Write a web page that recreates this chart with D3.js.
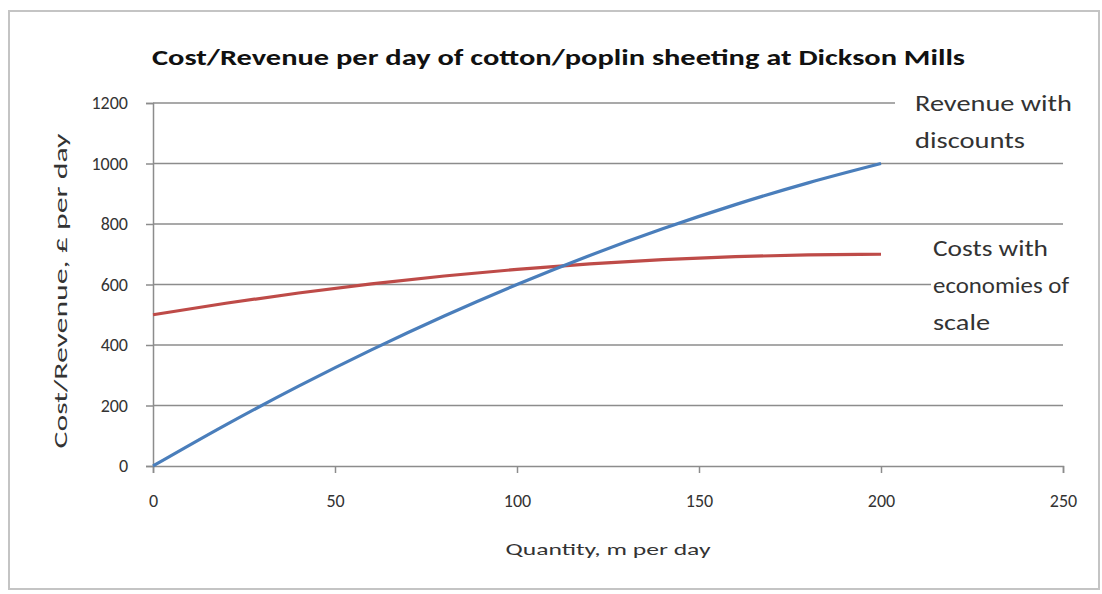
<!DOCTYPE html>
<html><head><meta charset="utf-8">
<script src="https://cdn.jsdelivr.net/npm/d3@7"></script>
<style>body{margin:0;background:#fff;} svg{display:block;}</style>
</head><body>
<svg id="c" width="1102" height="594"></svg>
<script>
const quantity = [0,20,40,60,80,100,120,140,160,180,200];
const revenue  = [0,136,264,384,496,600,696,784,864,936,1000];
const costs    = [500,538,572,602,628,650,668,682,692,698,700];
const xTicks = [0,50,100,150,200,250];
const yTicks = [0,200,400,600,800,1000,1200];
const titleText = "Cost/Revenue per day of cotton/poplin sheeting at Dickson Mills";
const xTitle = "Quantity, m per day";
const yTitle = "Cost/Revenue, £ per day";
const revLabel = ["Revenue with","discounts"];
const costLabel = ["Costs with","economies of","scale"];

const svg = d3.select("#c");
const font = "Carlito, Lato, 'Open Sans', 'Liberation Sans', sans-serif";
const ml=153, mr=1063, mt=103, mb=466;
const x = d3.scaleLinear().domain([0,250]).range([ml,mr]);
const y = d3.scaleLinear().domain([0,1200]).range([mb,mt]);

svg.append("rect").attr("x",9).attr("y",11).attr("width",1090).attr("height",578)
  .attr("fill","#fff").attr("stroke","#c4c4c4").attr("stroke-width",2);

// gridlines
svg.append("g").selectAll("line").data(yTicks.filter(d=>d>0)).join("line")
  .attr("x1",ml).attr("x2",mr).attr("y1",d=>y(d)).attr("y2",d=>y(d))
  .attr("stroke","#8c8c8c").attr("stroke-width",1.5);

// axes
const gx = svg.append("g").attr("transform",`translate(0,${mb})`)
  .call(d3.axisBottom(x).tickValues(xTicks).tickFormat(d3.format("d")).tickSize(7).tickPadding(18));
const gy = svg.append("g").attr("transform",`translate(${ml},0)`)
  .call(d3.axisLeft(y).tickValues(yTicks).tickFormat(d3.format("d")).tickSize(7).tickPadding(18));
[gx,gy].forEach(g=>{
  g.attr("font-family",font).attr("font-size",18);
  g.select(".domain").attr("stroke","#8c8c8c").attr("stroke-width",1.5);
  g.selectAll(".tick line").attr("stroke","#8c8c8c").attr("stroke-width",1.5);
  g.selectAll("text").attr("fill","#333");
});
gx.selectAll("text").attr("dy","0.9em");

// lines
const line = d3.line().x((d,i)=>x(quantity[i])).y(d=>y(d)).curve(d3.curveMonotoneX);
svg.append("path").datum(costs).attr("d",line).attr("fill","none")
  .attr("stroke","#be4b48").attr("stroke-width",3.2);
svg.append("path").datum(revenue).attr("d",line).attr("fill","none")
  .attr("stroke","#4a7ebb").attr("stroke-width",3.2);

// title
svg.append("text").attr("x",152).attr("y",65).text(titleText)
  .attr("font-family",font).attr("font-weight","bold").attr("font-size",23)
  .attr("fill","#111").attr("textLength",813).attr("lengthAdjust","spacingAndGlyphs");

// axis titles
svg.append("text").attr("x",608).attr("y",555).attr("text-anchor","middle").text(xTitle)
  .attr("font-family",font).attr("font-size",17).attr("fill","#333")
  .attr("textLength",205).attr("lengthAdjust","spacingAndGlyphs");
svg.append("text").attr("transform","translate(67,291) rotate(-90)").attr("text-anchor","middle")
  .text(yTitle).attr("font-family",font).attr("font-size",18).attr("fill","#333")
  .attr("textLength",315).attr("lengthAdjust","spacingAndGlyphs");

// series labels with white background
svg.append("rect").attr("x",895).attr("y",86).attr("width",187).attr("height",70).attr("fill","#fff");
svg.append("rect").attr("x",931).attr("y",232).attr("width",140).attr("height",100).attr("fill","#fff");
const lab = (arr,widths,x0,y0,dy)=>arr.forEach((t,i)=>svg.append("text").attr("x",x0).attr("y",y0+i*dy).text(t)
  .attr("font-family",font).attr("font-size",23).attr("fill","#333")
  .attr("textLength",widths[i]).attr("lengthAdjust","spacingAndGlyphs"));
lab(revLabel,[157,110],915,111,37);
lab(costLabel,[115,136,57],933,256,37);
</script>
</body></html>
